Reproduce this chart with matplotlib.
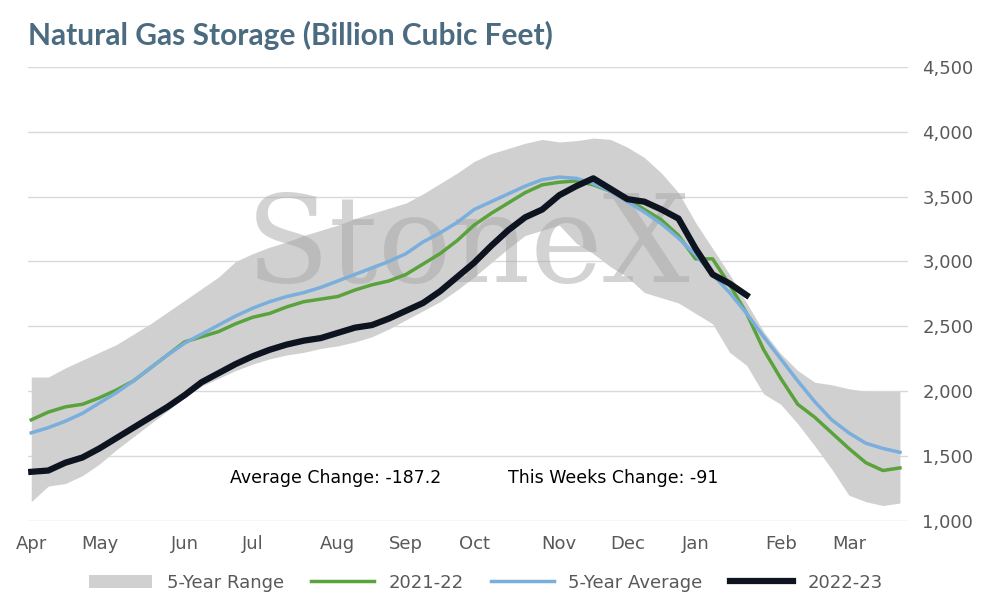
import matplotlib
matplotlib.use("Agg")
import matplotlib.pyplot as plt
import numpy as np

months = ["Apr","May","Jun","Jul","Aug","Sep","Oct","Nov","Dec","Jan","Feb","Mar"]
month_weeks = [0,4,9,13,18,22,26,31,35,39,44,48]

range_hi = [2110,2110,2180,2240,2300,2360,2440,2520,2610,2700,2790,2880,3000,3060,3110,3150,3200,3240,3280,3330,3370,3410,3450,3520,3600,3680,3770,3830,3870,3910,3940,3920,3930,3950,3940,3880,3800,3680,3530,3300,3100,2900,2680,2460,2290,2160,2070,2050,2020,2000,2000,2000]
range_lo = [1150,1270,1290,1350,1440,1550,1650,1750,1850,1950,2040,2100,2160,2210,2250,2280,2300,2330,2350,2380,2420,2480,2550,2620,2690,2780,2880,2990,3100,3200,3240,3280,3140,3060,2960,2880,2760,2720,2680,2600,2520,2300,2200,1980,1900,1750,1580,1400,1200,1150,1120,1140]
y2122 = [1780,1840,1880,1900,1950,2010,2080,2180,2280,2380,2420,2460,2520,2570,2600,2650,2690,2710,2730,2780,2820,2850,2900,2980,3060,3160,3280,3370,3450,3530,3590,3610,3620,3590,3540,3480,3400,3320,3200,3020,3020,2820,2600,2320,2100,1900,1800,1680,1560,1450,1390,1410]
avg5 = [1680,1720,1770,1830,1910,1990,2080,2180,2280,2370,2440,2510,2580,2640,2690,2730,2760,2800,2850,2900,2950,3000,3060,3150,3220,3300,3400,3460,3520,3580,3630,3650,3640,3600,3540,3460,3380,3290,3180,3050,2900,2760,2600,2420,2250,2080,1920,1780,1680,1600,1560,1530]
y2223 = [1380,1390,1450,1490,1560,1640,1720,1800,1880,1970,2070,2140,2210,2270,2320,2360,2390,2410,2450,2490,2510,2560,2620,2680,2770,2880,2990,3120,3240,3340,3400,3510,3580,3640,3560,3480,3460,3400,3330,3100,2900,2830,2740]

fig = plt.figure(figsize=(9.95,6.06), dpi=100)
ax = fig.add_axes([0.028,0.14,0.885,0.75])
w = np.arange(len(range_hi))
ax.fill_between(w, range_lo, range_hi, color="#d0d0d0", lw=0, label="5-Year Range", zorder=1)
ax.plot(np.arange(len(y2122)), y2122, color="#5aa33c", lw=2.5, label="2021-22", zorder=3)
ax.plot(np.arange(len(avg5)), avg5, color="#7aaedc", lw=2.5, label="5-Year Average", zorder=3)
ax.plot(np.arange(len(y2223)), y2223, color="#0d1420", lw=4.5, label="2022-23", zorder=4)
ax.set_ylim(1000,4500)
ax.set_xlim(-0.2,51.5)
ax.set_yticks(range(1000,4501,500))
ax.set_yticklabels([f"{v:,}" for v in range(1000,4501,500)])
ax.yaxis.tick_right()
ax.set_xticks(month_weeks)
ax.set_xticklabels(months)
ax.tick_params(length=0, labelsize=13, colors="#595959", pad=10)
ax.grid(axis="y", color="#d9d9d9", lw=1)
ax.set_axisbelow(True)
for s in ax.spines.values(): s.set_visible(False)
ax.text(0.5,0.6,"StoneX", transform=ax.transAxes, fontsize=88, family="DejaVu Serif",
        color="#a8a8a8", alpha=0.5, ha="center", va="center", zorder=2)
ax.text(0.23,0.085,"Average Change: -187.2", transform=ax.transAxes, fontsize=12.5, zorder=5)
ax.text(0.545,0.085,"This Weeks Change: -91", transform=ax.transAxes, fontsize=12.5, zorder=5)
fig.text(0.028,0.925,"Natural Gas Storage (Billion Cubic Feet)", fontsize=21.5, fontweight="bold",
         family="Lato", color="#4a6b80")
ax.legend(loc="upper center", bbox_to_anchor=(0.52,-0.08), ncol=4, frameon=False, fontsize=13,
          handlelength=3.5, columnspacing=1.5, labelcolor="#595959")
fig.savefig("out.png", dpi=100)
